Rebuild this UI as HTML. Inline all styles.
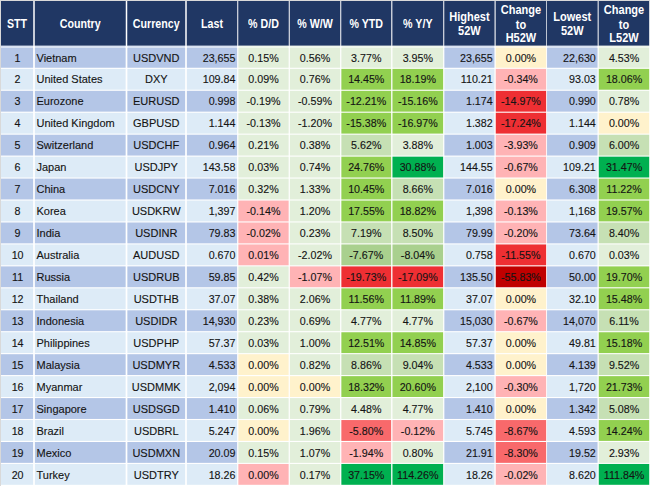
<!DOCTYPE html>
<html><head><meta charset="utf-8"><title>Currency table</title>
<style>
html,body{margin:0;padding:0;background:#fff;}
body{width:650px;height:486px;overflow:hidden;position:relative;font-family:"Liberation Sans",sans-serif;}
#bg{position:absolute;left:0;top:0;width:650px;height:486px;display:block;}
.c{position:absolute;box-sizing:border-box;font-size:10.7px;line-height:20.85px;color:#141414;white-space:nowrap;overflow:visible;transform:scaleY(1.09);transform-origin:50% 60%;-webkit-text-stroke:0.12px #141414;}
.c.c{text-align:center;}
.c.l{text-align:left;padding-left:1.5px;}
.c.r{text-align:right;padding-right:1.6px;}
.h{position:absolute;display:flex;align-items:center;justify-content:center;text-align:center;color:#fff;font-weight:bold;font-size:11.0px;line-height:12.6px;padding-top:1.9px;box-sizing:border-box;}
.h span{display:inline-block;transform:scaleY(1.13);transform-origin:50% 50%;}
</style></head><body>
<svg id="bg" width="650" height="486" viewBox="0 0 650 486">
<rect x="0" y="0" width="650" height="486" fill="#fff"/>
<rect x="0" y="0" width="650" height="1" fill="#d9d9d9"/>
<rect x="0" y="0" width="1" height="486" fill="#d9d9d9"/>
<rect x="1.00" y="1.0" width="32.25" height="44.70" fill="#203764"/>
<rect x="34.75" y="1.0" width="91.00" height="44.70" fill="#203764"/>
<rect x="127.25" y="1.0" width="58.00" height="44.70" fill="#203764"/>
<rect x="186.75" y="1.0" width="50.50" height="44.70" fill="#203764"/>
<rect x="238.25" y="1.0" width="50.50" height="44.70" fill="#203764"/>
<rect x="289.75" y="1.0" width="50.50" height="44.70" fill="#203764"/>
<rect x="341.25" y="1.0" width="50.00" height="44.70" fill="#203764"/>
<rect x="392.35" y="1.0" width="50.90" height="44.70" fill="#203764"/>
<rect x="444.25" y="1.0" width="50.30" height="44.70" fill="#203764"/>
<rect x="495.65" y="1.0" width="50.60" height="44.70" fill="#203764"/>
<rect x="546.95" y="1.0" width="50.70" height="44.70" fill="#203764"/>
<rect x="598.65" y="1.0" width="50.55" height="44.70" fill="#203764"/>
<rect x="1.00" y="48.00" width="32.15" height="19.75" fill="#B4C6E7"/>
<rect x="1" y="45.70" width="32.00" height="2.30" fill="#B4C6E7" fill-opacity="0.5"/>
<rect x="34.85" y="48.00" width="90.80" height="19.75" fill="#B4C6E7"/>
<rect x="35" y="45.70" width="90.50" height="2.30" fill="#B4C6E7" fill-opacity="0.5"/>
<rect x="127.35" y="48.00" width="57.80" height="19.75" fill="#B4C6E7"/>
<rect x="127.5" y="45.70" width="57.50" height="2.30" fill="#B4C6E7" fill-opacity="0.5"/>
<rect x="186.85" y="48.00" width="50.30" height="19.75" fill="#B4C6E7"/>
<rect x="187" y="45.70" width="50.00" height="2.30" fill="#B4C6E7" fill-opacity="0.5"/>
<rect x="238.35" y="48.00" width="50.30" height="19.75" fill="#E2EFDA"/>
<rect x="238.5" y="45.70" width="50.00" height="2.30" fill="#E2EFDA" fill-opacity="0.5"/>
<rect x="289.85" y="48.00" width="50.30" height="19.75" fill="#E2EFDA"/>
<rect x="290" y="45.70" width="50.00" height="2.30" fill="#E2EFDA" fill-opacity="0.5"/>
<rect x="341.35" y="48.00" width="49.80" height="19.75" fill="#E2EFDA"/>
<rect x="341.5" y="45.70" width="49.50" height="2.30" fill="#E2EFDA" fill-opacity="0.5"/>
<rect x="392.45" y="48.00" width="50.70" height="19.75" fill="#E2EFDA"/>
<rect x="392.6" y="45.70" width="50.40" height="2.30" fill="#E2EFDA" fill-opacity="0.5"/>
<rect x="444.35" y="48.00" width="50.10" height="19.75" fill="#B4C6E7"/>
<rect x="444.5" y="45.70" width="49.80" height="2.30" fill="#B4C6E7" fill-opacity="0.5"/>
<rect x="495.75" y="48.00" width="50.40" height="19.75" fill="#FFF2CC"/>
<rect x="495.9" y="45.70" width="50.10" height="2.30" fill="#FFF2CC" fill-opacity="0.5"/>
<rect x="547.05" y="48.00" width="50.50" height="19.75" fill="#B4C6E7"/>
<rect x="547.2" y="45.70" width="50.20" height="2.30" fill="#B4C6E7" fill-opacity="0.5"/>
<rect x="598.75" y="48.00" width="50.45" height="19.75" fill="#E2EFDA"/>
<rect x="598.9" y="45.70" width="50.30" height="2.30" fill="#E2EFDA" fill-opacity="0.5"/>
<rect x="1.00" y="68.85" width="32.15" height="20.85" fill="#DDEBF7"/>
<rect x="34.85" y="68.85" width="90.80" height="20.85" fill="#DDEBF7"/>
<rect x="127.35" y="68.85" width="57.80" height="20.85" fill="#DDEBF7"/>
<rect x="186.85" y="68.85" width="50.30" height="20.85" fill="#DDEBF7"/>
<rect x="238.35" y="68.85" width="50.30" height="20.85" fill="#E2EFDA"/>
<rect x="289.85" y="68.85" width="50.30" height="20.85" fill="#E2EFDA"/>
<rect x="341.35" y="68.85" width="49.80" height="20.85" fill="#92D050"/>
<rect x="392.45" y="68.85" width="50.70" height="20.85" fill="#92D050"/>
<rect x="444.35" y="68.85" width="50.10" height="20.85" fill="#DDEBF7"/>
<rect x="495.75" y="68.85" width="50.40" height="20.85" fill="#FFB3B5"/>
<rect x="547.05" y="68.85" width="50.50" height="20.85" fill="#DDEBF7"/>
<rect x="598.75" y="68.85" width="50.45" height="20.85" fill="#92D050"/>
<rect x="1.00" y="90.80" width="32.15" height="20.85" fill="#B4C6E7"/>
<rect x="34.85" y="90.80" width="90.80" height="20.85" fill="#B4C6E7"/>
<rect x="127.35" y="90.80" width="57.80" height="20.85" fill="#B4C6E7"/>
<rect x="186.85" y="90.80" width="50.30" height="20.85" fill="#B4C6E7"/>
<rect x="238.35" y="90.80" width="50.30" height="20.85" fill="#E2EFDA"/>
<rect x="289.85" y="90.80" width="50.30" height="20.85" fill="#E2EFDA"/>
<rect x="341.35" y="90.80" width="49.80" height="20.85" fill="#92D050"/>
<rect x="392.45" y="90.80" width="50.70" height="20.85" fill="#92D050"/>
<rect x="444.35" y="90.80" width="50.10" height="20.85" fill="#B4C6E7"/>
<rect x="495.75" y="90.80" width="50.40" height="20.85" fill="#EE2F33"/>
<rect x="547.05" y="90.80" width="50.50" height="20.85" fill="#B4C6E7"/>
<rect x="598.75" y="90.80" width="50.45" height="20.85" fill="#E2EFDA"/>
<rect x="1.00" y="112.75" width="32.15" height="20.85" fill="#DDEBF7"/>
<rect x="34.85" y="112.75" width="90.80" height="20.85" fill="#DDEBF7"/>
<rect x="127.35" y="112.75" width="57.80" height="20.85" fill="#DDEBF7"/>
<rect x="186.85" y="112.75" width="50.30" height="20.85" fill="#DDEBF7"/>
<rect x="238.35" y="112.75" width="50.30" height="20.85" fill="#E2EFDA"/>
<rect x="289.85" y="112.75" width="50.30" height="20.85" fill="#E2EFDA"/>
<rect x="341.35" y="112.75" width="49.80" height="20.85" fill="#92D050"/>
<rect x="392.45" y="112.75" width="50.70" height="20.85" fill="#92D050"/>
<rect x="444.35" y="112.75" width="50.10" height="20.85" fill="#DDEBF7"/>
<rect x="495.75" y="112.75" width="50.40" height="20.85" fill="#EE2F33"/>
<rect x="547.05" y="112.75" width="50.50" height="20.85" fill="#DDEBF7"/>
<rect x="598.75" y="112.75" width="50.45" height="20.85" fill="#FFF2CC"/>
<rect x="1.00" y="134.70" width="32.15" height="20.85" fill="#B4C6E7"/>
<rect x="34.85" y="134.70" width="90.80" height="20.85" fill="#B4C6E7"/>
<rect x="127.35" y="134.70" width="57.80" height="20.85" fill="#B4C6E7"/>
<rect x="186.85" y="134.70" width="50.30" height="20.85" fill="#B4C6E7"/>
<rect x="238.35" y="134.70" width="50.30" height="20.85" fill="#E2EFDA"/>
<rect x="289.85" y="134.70" width="50.30" height="20.85" fill="#E2EFDA"/>
<rect x="341.35" y="134.70" width="49.80" height="20.85" fill="#C6E0B4"/>
<rect x="392.45" y="134.70" width="50.70" height="20.85" fill="#E2EFDA"/>
<rect x="444.35" y="134.70" width="50.10" height="20.85" fill="#B4C6E7"/>
<rect x="495.75" y="134.70" width="50.40" height="20.85" fill="#FFB3B5"/>
<rect x="547.05" y="134.70" width="50.50" height="20.85" fill="#B4C6E7"/>
<rect x="598.75" y="134.70" width="50.45" height="20.85" fill="#C6E0B4"/>
<rect x="1.00" y="156.65" width="32.15" height="20.85" fill="#DDEBF7"/>
<rect x="34.85" y="156.65" width="90.80" height="20.85" fill="#DDEBF7"/>
<rect x="127.35" y="156.65" width="57.80" height="20.85" fill="#DDEBF7"/>
<rect x="186.85" y="156.65" width="50.30" height="20.85" fill="#DDEBF7"/>
<rect x="238.35" y="156.65" width="50.30" height="20.85" fill="#E2EFDA"/>
<rect x="289.85" y="156.65" width="50.30" height="20.85" fill="#E2EFDA"/>
<rect x="341.35" y="156.65" width="49.80" height="20.85" fill="#92D050"/>
<rect x="392.45" y="156.65" width="50.70" height="20.85" fill="#00B050"/>
<rect x="444.35" y="156.65" width="50.10" height="20.85" fill="#DDEBF7"/>
<rect x="495.75" y="156.65" width="50.40" height="20.85" fill="#FFB3B5"/>
<rect x="547.05" y="156.65" width="50.50" height="20.85" fill="#DDEBF7"/>
<rect x="598.75" y="156.65" width="50.45" height="20.85" fill="#00B050"/>
<rect x="1.00" y="178.60" width="32.15" height="20.85" fill="#B4C6E7"/>
<rect x="34.85" y="178.60" width="90.80" height="20.85" fill="#B4C6E7"/>
<rect x="127.35" y="178.60" width="57.80" height="20.85" fill="#B4C6E7"/>
<rect x="186.85" y="178.60" width="50.30" height="20.85" fill="#B4C6E7"/>
<rect x="238.35" y="178.60" width="50.30" height="20.85" fill="#E2EFDA"/>
<rect x="289.85" y="178.60" width="50.30" height="20.85" fill="#E2EFDA"/>
<rect x="341.35" y="178.60" width="49.80" height="20.85" fill="#92D050"/>
<rect x="392.45" y="178.60" width="50.70" height="20.85" fill="#C6E0B4"/>
<rect x="444.35" y="178.60" width="50.10" height="20.85" fill="#B4C6E7"/>
<rect x="495.75" y="178.60" width="50.40" height="20.85" fill="#FFF2CC"/>
<rect x="547.05" y="178.60" width="50.50" height="20.85" fill="#B4C6E7"/>
<rect x="598.75" y="178.60" width="50.45" height="20.85" fill="#92D050"/>
<rect x="1.00" y="200.55" width="32.15" height="20.85" fill="#DDEBF7"/>
<rect x="34.85" y="200.55" width="90.80" height="20.85" fill="#DDEBF7"/>
<rect x="127.35" y="200.55" width="57.80" height="20.85" fill="#DDEBF7"/>
<rect x="186.85" y="200.55" width="50.30" height="20.85" fill="#DDEBF7"/>
<rect x="238.35" y="200.55" width="50.30" height="20.85" fill="#FFB3B5"/>
<rect x="289.85" y="200.55" width="50.30" height="20.85" fill="#E2EFDA"/>
<rect x="341.35" y="200.55" width="49.80" height="20.85" fill="#92D050"/>
<rect x="392.45" y="200.55" width="50.70" height="20.85" fill="#92D050"/>
<rect x="444.35" y="200.55" width="50.10" height="20.85" fill="#DDEBF7"/>
<rect x="495.75" y="200.55" width="50.40" height="20.85" fill="#FFB3B5"/>
<rect x="547.05" y="200.55" width="50.50" height="20.85" fill="#DDEBF7"/>
<rect x="598.75" y="200.55" width="50.45" height="20.85" fill="#92D050"/>
<rect x="1.00" y="222.50" width="32.15" height="20.85" fill="#B4C6E7"/>
<rect x="34.85" y="222.50" width="90.80" height="20.85" fill="#B4C6E7"/>
<rect x="127.35" y="222.50" width="57.80" height="20.85" fill="#B4C6E7"/>
<rect x="186.85" y="222.50" width="50.30" height="20.85" fill="#B4C6E7"/>
<rect x="238.35" y="222.50" width="50.30" height="20.85" fill="#FFB3B5"/>
<rect x="289.85" y="222.50" width="50.30" height="20.85" fill="#E2EFDA"/>
<rect x="341.35" y="222.50" width="49.80" height="20.85" fill="#C6E0B4"/>
<rect x="392.45" y="222.50" width="50.70" height="20.85" fill="#C6E0B4"/>
<rect x="444.35" y="222.50" width="50.10" height="20.85" fill="#B4C6E7"/>
<rect x="495.75" y="222.50" width="50.40" height="20.85" fill="#FFB3B5"/>
<rect x="547.05" y="222.50" width="50.50" height="20.85" fill="#B4C6E7"/>
<rect x="598.75" y="222.50" width="50.45" height="20.85" fill="#C6E0B4"/>
<rect x="1.00" y="244.45" width="32.15" height="20.85" fill="#DDEBF7"/>
<rect x="34.85" y="244.45" width="90.80" height="20.85" fill="#DDEBF7"/>
<rect x="127.35" y="244.45" width="57.80" height="20.85" fill="#DDEBF7"/>
<rect x="186.85" y="244.45" width="50.30" height="20.85" fill="#DDEBF7"/>
<rect x="238.35" y="244.45" width="50.30" height="20.85" fill="#FFB3B5"/>
<rect x="289.85" y="244.45" width="50.30" height="20.85" fill="#E2EFDA"/>
<rect x="341.35" y="244.45" width="49.80" height="20.85" fill="#A9D08E"/>
<rect x="392.45" y="244.45" width="50.70" height="20.85" fill="#A9D08E"/>
<rect x="444.35" y="244.45" width="50.10" height="20.85" fill="#DDEBF7"/>
<rect x="495.75" y="244.45" width="50.40" height="20.85" fill="#EE2F33"/>
<rect x="547.05" y="244.45" width="50.50" height="20.85" fill="#DDEBF7"/>
<rect x="598.75" y="244.45" width="50.45" height="20.85" fill="#E2EFDA"/>
<rect x="1.00" y="266.40" width="32.15" height="20.85" fill="#B4C6E7"/>
<rect x="34.85" y="266.40" width="90.80" height="20.85" fill="#B4C6E7"/>
<rect x="127.35" y="266.40" width="57.80" height="20.85" fill="#B4C6E7"/>
<rect x="186.85" y="266.40" width="50.30" height="20.85" fill="#B4C6E7"/>
<rect x="238.35" y="266.40" width="50.30" height="20.85" fill="#E2EFDA"/>
<rect x="289.85" y="266.40" width="50.30" height="20.85" fill="#FFB3B5"/>
<rect x="341.35" y="266.40" width="49.80" height="20.85" fill="#EE2F33"/>
<rect x="392.45" y="266.40" width="50.70" height="20.85" fill="#EE2F33"/>
<rect x="444.35" y="266.40" width="50.10" height="20.85" fill="#B4C6E7"/>
<rect x="495.75" y="266.40" width="50.40" height="20.85" fill="#C00000"/>
<rect x="547.05" y="266.40" width="50.50" height="20.85" fill="#B4C6E7"/>
<rect x="598.75" y="266.40" width="50.45" height="20.85" fill="#92D050"/>
<rect x="1.00" y="288.35" width="32.15" height="20.85" fill="#DDEBF7"/>
<rect x="34.85" y="288.35" width="90.80" height="20.85" fill="#DDEBF7"/>
<rect x="127.35" y="288.35" width="57.80" height="20.85" fill="#DDEBF7"/>
<rect x="186.85" y="288.35" width="50.30" height="20.85" fill="#DDEBF7"/>
<rect x="238.35" y="288.35" width="50.30" height="20.85" fill="#E2EFDA"/>
<rect x="289.85" y="288.35" width="50.30" height="20.85" fill="#E2EFDA"/>
<rect x="341.35" y="288.35" width="49.80" height="20.85" fill="#92D050"/>
<rect x="392.45" y="288.35" width="50.70" height="20.85" fill="#92D050"/>
<rect x="444.35" y="288.35" width="50.10" height="20.85" fill="#DDEBF7"/>
<rect x="495.75" y="288.35" width="50.40" height="20.85" fill="#FFF2CC"/>
<rect x="547.05" y="288.35" width="50.50" height="20.85" fill="#DDEBF7"/>
<rect x="598.75" y="288.35" width="50.45" height="20.85" fill="#92D050"/>
<rect x="1.00" y="310.30" width="32.15" height="20.85" fill="#B4C6E7"/>
<rect x="34.85" y="310.30" width="90.80" height="20.85" fill="#B4C6E7"/>
<rect x="127.35" y="310.30" width="57.80" height="20.85" fill="#B4C6E7"/>
<rect x="186.85" y="310.30" width="50.30" height="20.85" fill="#B4C6E7"/>
<rect x="238.35" y="310.30" width="50.30" height="20.85" fill="#E2EFDA"/>
<rect x="289.85" y="310.30" width="50.30" height="20.85" fill="#E2EFDA"/>
<rect x="341.35" y="310.30" width="49.80" height="20.85" fill="#E2EFDA"/>
<rect x="392.45" y="310.30" width="50.70" height="20.85" fill="#E2EFDA"/>
<rect x="444.35" y="310.30" width="50.10" height="20.85" fill="#B4C6E7"/>
<rect x="495.75" y="310.30" width="50.40" height="20.85" fill="#FFB3B5"/>
<rect x="547.05" y="310.30" width="50.50" height="20.85" fill="#B4C6E7"/>
<rect x="598.75" y="310.30" width="50.45" height="20.85" fill="#C6E0B4"/>
<rect x="1.00" y="332.25" width="32.15" height="20.85" fill="#DDEBF7"/>
<rect x="34.85" y="332.25" width="90.80" height="20.85" fill="#DDEBF7"/>
<rect x="127.35" y="332.25" width="57.80" height="20.85" fill="#DDEBF7"/>
<rect x="186.85" y="332.25" width="50.30" height="20.85" fill="#DDEBF7"/>
<rect x="238.35" y="332.25" width="50.30" height="20.85" fill="#E2EFDA"/>
<rect x="289.85" y="332.25" width="50.30" height="20.85" fill="#E2EFDA"/>
<rect x="341.35" y="332.25" width="49.80" height="20.85" fill="#92D050"/>
<rect x="392.45" y="332.25" width="50.70" height="20.85" fill="#92D050"/>
<rect x="444.35" y="332.25" width="50.10" height="20.85" fill="#DDEBF7"/>
<rect x="495.75" y="332.25" width="50.40" height="20.85" fill="#FFF2CC"/>
<rect x="547.05" y="332.25" width="50.50" height="20.85" fill="#DDEBF7"/>
<rect x="598.75" y="332.25" width="50.45" height="20.85" fill="#92D050"/>
<rect x="1.00" y="354.20" width="32.15" height="20.85" fill="#B4C6E7"/>
<rect x="34.85" y="354.20" width="90.80" height="20.85" fill="#B4C6E7"/>
<rect x="127.35" y="354.20" width="57.80" height="20.85" fill="#B4C6E7"/>
<rect x="186.85" y="354.20" width="50.30" height="20.85" fill="#B4C6E7"/>
<rect x="238.35" y="354.20" width="50.30" height="20.85" fill="#FFF2CC"/>
<rect x="289.85" y="354.20" width="50.30" height="20.85" fill="#E2EFDA"/>
<rect x="341.35" y="354.20" width="49.80" height="20.85" fill="#C6E0B4"/>
<rect x="392.45" y="354.20" width="50.70" height="20.85" fill="#C6E0B4"/>
<rect x="444.35" y="354.20" width="50.10" height="20.85" fill="#B4C6E7"/>
<rect x="495.75" y="354.20" width="50.40" height="20.85" fill="#FFF2CC"/>
<rect x="547.05" y="354.20" width="50.50" height="20.85" fill="#B4C6E7"/>
<rect x="598.75" y="354.20" width="50.45" height="20.85" fill="#C6E0B4"/>
<rect x="1.00" y="376.15" width="32.15" height="20.85" fill="#DDEBF7"/>
<rect x="34.85" y="376.15" width="90.80" height="20.85" fill="#DDEBF7"/>
<rect x="127.35" y="376.15" width="57.80" height="20.85" fill="#DDEBF7"/>
<rect x="186.85" y="376.15" width="50.30" height="20.85" fill="#DDEBF7"/>
<rect x="238.35" y="376.15" width="50.30" height="20.85" fill="#FFF2CC"/>
<rect x="289.85" y="376.15" width="50.30" height="20.85" fill="#FFF2CC"/>
<rect x="341.35" y="376.15" width="49.80" height="20.85" fill="#92D050"/>
<rect x="392.45" y="376.15" width="50.70" height="20.85" fill="#92D050"/>
<rect x="444.35" y="376.15" width="50.10" height="20.85" fill="#DDEBF7"/>
<rect x="495.75" y="376.15" width="50.40" height="20.85" fill="#FFB3B5"/>
<rect x="547.05" y="376.15" width="50.50" height="20.85" fill="#DDEBF7"/>
<rect x="598.75" y="376.15" width="50.45" height="20.85" fill="#92D050"/>
<rect x="1.00" y="398.10" width="32.15" height="20.85" fill="#B4C6E7"/>
<rect x="34.85" y="398.10" width="90.80" height="20.85" fill="#B4C6E7"/>
<rect x="127.35" y="398.10" width="57.80" height="20.85" fill="#B4C6E7"/>
<rect x="186.85" y="398.10" width="50.30" height="20.85" fill="#B4C6E7"/>
<rect x="238.35" y="398.10" width="50.30" height="20.85" fill="#E2EFDA"/>
<rect x="289.85" y="398.10" width="50.30" height="20.85" fill="#E2EFDA"/>
<rect x="341.35" y="398.10" width="49.80" height="20.85" fill="#E2EFDA"/>
<rect x="392.45" y="398.10" width="50.70" height="20.85" fill="#E2EFDA"/>
<rect x="444.35" y="398.10" width="50.10" height="20.85" fill="#B4C6E7"/>
<rect x="495.75" y="398.10" width="50.40" height="20.85" fill="#FFF2CC"/>
<rect x="547.05" y="398.10" width="50.50" height="20.85" fill="#B4C6E7"/>
<rect x="598.75" y="398.10" width="50.45" height="20.85" fill="#C6E0B4"/>
<rect x="1.00" y="420.05" width="32.15" height="20.85" fill="#DDEBF7"/>
<rect x="34.85" y="420.05" width="90.80" height="20.85" fill="#DDEBF7"/>
<rect x="127.35" y="420.05" width="57.80" height="20.85" fill="#DDEBF7"/>
<rect x="186.85" y="420.05" width="50.30" height="20.85" fill="#DDEBF7"/>
<rect x="238.35" y="420.05" width="50.30" height="20.85" fill="#FFF2CC"/>
<rect x="289.85" y="420.05" width="50.30" height="20.85" fill="#E2EFDA"/>
<rect x="341.35" y="420.05" width="49.80" height="20.85" fill="#F8696B"/>
<rect x="392.45" y="420.05" width="50.70" height="20.85" fill="#FFB3B5"/>
<rect x="444.35" y="420.05" width="50.10" height="20.85" fill="#DDEBF7"/>
<rect x="495.75" y="420.05" width="50.40" height="20.85" fill="#F8696B"/>
<rect x="547.05" y="420.05" width="50.50" height="20.85" fill="#DDEBF7"/>
<rect x="598.75" y="420.05" width="50.45" height="20.85" fill="#92D050"/>
<rect x="1.00" y="442.00" width="32.15" height="20.85" fill="#B4C6E7"/>
<rect x="34.85" y="442.00" width="90.80" height="20.85" fill="#B4C6E7"/>
<rect x="127.35" y="442.00" width="57.80" height="20.85" fill="#B4C6E7"/>
<rect x="186.85" y="442.00" width="50.30" height="20.85" fill="#B4C6E7"/>
<rect x="238.35" y="442.00" width="50.30" height="20.85" fill="#E2EFDA"/>
<rect x="289.85" y="442.00" width="50.30" height="20.85" fill="#E2EFDA"/>
<rect x="341.35" y="442.00" width="49.80" height="20.85" fill="#FFB3B5"/>
<rect x="392.45" y="442.00" width="50.70" height="20.85" fill="#E2EFDA"/>
<rect x="444.35" y="442.00" width="50.10" height="20.85" fill="#B4C6E7"/>
<rect x="495.75" y="442.00" width="50.40" height="20.85" fill="#F8696B"/>
<rect x="547.05" y="442.00" width="50.50" height="20.85" fill="#B4C6E7"/>
<rect x="598.75" y="442.00" width="50.45" height="20.85" fill="#E2EFDA"/>
<rect x="1.00" y="463.95" width="32.15" height="20.85" fill="#DDEBF7"/>
<rect x="34.85" y="463.95" width="90.80" height="20.85" fill="#DDEBF7"/>
<rect x="127.35" y="463.95" width="57.80" height="20.85" fill="#DDEBF7"/>
<rect x="186.85" y="463.95" width="50.30" height="20.85" fill="#DDEBF7"/>
<rect x="238.35" y="463.95" width="50.30" height="20.85" fill="#FFB3B5"/>
<rect x="289.85" y="463.95" width="50.30" height="20.85" fill="#E2EFDA"/>
<rect x="341.35" y="463.95" width="49.80" height="20.85" fill="#00B050"/>
<rect x="392.45" y="463.95" width="50.70" height="20.85" fill="#00B050"/>
<rect x="444.35" y="463.95" width="50.10" height="20.85" fill="#DDEBF7"/>
<rect x="495.75" y="463.95" width="50.40" height="20.85" fill="#FFB3B5"/>
<rect x="547.05" y="463.95" width="50.50" height="20.85" fill="#DDEBF7"/>
<rect x="598.75" y="463.95" width="50.45" height="20.85" fill="#00B050"/>
</svg>
<div class="h" style="padding-top:1.9px;font-size:10.67px;left:1px;width:32.00px;top:1.0px;height:44.70px"><span>STT</span></div>
<div class="h" style="padding-top:1.9px;font-size:10.67px;left:35px;width:90.50px;top:1.0px;height:44.70px"><span>Country</span></div>
<div class="h" style="padding-top:1.9px;font-size:10.67px;left:127.5px;width:57.50px;top:1.0px;height:44.70px"><span>Currency</span></div>
<div class="h" style="padding-top:1.9px;font-size:10.67px;left:187px;width:50.00px;top:1.0px;height:44.70px"><span>Last</span></div>
<div class="h" style="padding-top:1.9px;font-size:10.67px;left:238.5px;width:50.00px;top:1.0px;height:44.70px"><span>% D/D</span></div>
<div class="h" style="padding-top:1.9px;font-size:10.67px;left:290px;width:50.00px;top:1.0px;height:44.70px"><span>% W/W</span></div>
<div class="h" style="padding-top:1.9px;font-size:10.67px;left:341.5px;width:49.50px;top:1.0px;height:44.70px"><span>% YTD</span></div>
<div class="h" style="padding-top:1.9px;font-size:10.67px;left:392.6px;width:50.40px;top:1.0px;height:44.70px"><span>% Y/Y</span></div>
<div class="h" style="padding-top:0.0px;font-size:11.0px;left:444.5px;width:49.80px;top:1.0px;height:44.70px"><span>Highest<br>52W</span></div>
<div class="h" style="padding-top:1.9px;font-size:11.0px;left:495.9px;width:50.10px;top:1.0px;height:44.70px"><span>Change<br>to<br>H52W</span></div>
<div class="h" style="padding-top:0.0px;font-size:11.0px;left:547.2px;width:50.20px;top:1.0px;height:44.70px"><span>Lowest<br>52W</span></div>
<div class="h" style="padding-top:1.9px;font-size:11.0px;left:598.9px;width:50.30px;top:1.0px;height:44.70px"><span>Change<br>to<br>L52W</span></div>
<div class="c c" style="font-size:10.7px;left:1.6px;width:32.00px;top:47.50px;height:20.85px">1</div>
<div class="c l" style="font-size:11.0px;transform:scaleY(1.05);left:35px;width:90.50px;top:47.50px;height:20.85px">Vietnam</div>
<div class="c c" style="font-size:11.0px;transform:scaleY(1.05);left:127.5px;width:57.50px;top:47.50px;height:20.85px">USDVND</div>
<div class="c r" style="font-size:10.7px;left:187px;width:50.00px;top:47.50px;height:20.85px">23,655</div>
<div class="c c" style="font-size:10.7px;left:238.5px;width:50.00px;top:47.50px;height:20.85px">0.15%</div>
<div class="c c" style="font-size:10.7px;left:290px;width:50.00px;top:47.50px;height:20.85px">0.56%</div>
<div class="c c" style="font-size:10.7px;left:341.5px;width:49.50px;top:47.50px;height:20.85px">3.77%</div>
<div class="c c" style="font-size:10.7px;left:392.6px;width:50.40px;top:47.50px;height:20.85px">3.95%</div>
<div class="c r" style="font-size:10.7px;left:444.5px;width:49.80px;top:47.50px;height:20.85px">23,655</div>
<div class="c c" style="font-size:10.7px;left:495.9px;width:50.10px;top:47.50px;height:20.85px">0.00%</div>
<div class="c r" style="font-size:10.7px;left:547.2px;width:50.20px;top:47.50px;height:20.85px">22,630</div>
<div class="c c" style="font-size:10.7px;left:598.9px;width:50.30px;top:47.50px;height:20.85px">4.53%</div>
<div class="c c" style="font-size:10.7px;left:1.6px;width:32.00px;top:69.45px;height:20.85px">2</div>
<div class="c l" style="font-size:11.0px;transform:scaleY(1.05);left:35px;width:90.50px;top:69.45px;height:20.85px">United States</div>
<div class="c c" style="font-size:11.0px;transform:scaleY(1.05);left:127.5px;width:57.50px;top:69.45px;height:20.85px">DXY</div>
<div class="c r" style="font-size:10.7px;left:187px;width:50.00px;top:69.45px;height:20.85px">109.84</div>
<div class="c c" style="font-size:10.7px;left:238.5px;width:50.00px;top:69.45px;height:20.85px">0.09%</div>
<div class="c c" style="font-size:10.7px;left:290px;width:50.00px;top:69.45px;height:20.85px">0.76%</div>
<div class="c c" style="font-size:10.7px;left:341.5px;width:49.50px;top:69.45px;height:20.85px">14.45%</div>
<div class="c c" style="font-size:10.7px;left:392.6px;width:50.40px;top:69.45px;height:20.85px">18.19%</div>
<div class="c r" style="font-size:10.7px;left:444.5px;width:49.80px;top:69.45px;height:20.85px">110.21</div>
<div class="c c" style="font-size:10.7px;left:495.9px;width:50.10px;top:69.45px;height:20.85px">-0.34%</div>
<div class="c r" style="font-size:10.7px;left:547.2px;width:50.20px;top:69.45px;height:20.85px">93.03</div>
<div class="c c" style="font-size:10.7px;left:598.9px;width:50.30px;top:69.45px;height:20.85px">18.06%</div>
<div class="c c" style="font-size:10.7px;left:1.6px;width:32.00px;top:91.40px;height:20.85px">3</div>
<div class="c l" style="font-size:11.0px;transform:scaleY(1.05);left:35px;width:90.50px;top:91.40px;height:20.85px">Eurozone</div>
<div class="c c" style="font-size:11.0px;transform:scaleY(1.05);left:127.5px;width:57.50px;top:91.40px;height:20.85px">EURUSD</div>
<div class="c r" style="font-size:10.7px;left:187px;width:50.00px;top:91.40px;height:20.85px">0.998</div>
<div class="c c" style="font-size:10.7px;left:238.5px;width:50.00px;top:91.40px;height:20.85px">-0.19%</div>
<div class="c c" style="font-size:10.7px;left:290px;width:50.00px;top:91.40px;height:20.85px">-0.59%</div>
<div class="c c" style="font-size:10.7px;left:341.5px;width:49.50px;top:91.40px;height:20.85px">-12.21%</div>
<div class="c c" style="font-size:10.7px;left:392.6px;width:50.40px;top:91.40px;height:20.85px">-15.16%</div>
<div class="c r" style="font-size:10.7px;left:444.5px;width:49.80px;top:91.40px;height:20.85px">1.174</div>
<div class="c c" style="font-size:10.7px;left:495.9px;width:50.10px;top:91.40px;height:20.85px">-14.97%</div>
<div class="c r" style="font-size:10.7px;left:547.2px;width:50.20px;top:91.40px;height:20.85px">0.990</div>
<div class="c c" style="font-size:10.7px;left:598.9px;width:50.30px;top:91.40px;height:20.85px">0.78%</div>
<div class="c c" style="font-size:10.7px;left:1.6px;width:32.00px;top:113.35px;height:20.85px">4</div>
<div class="c l" style="font-size:11.0px;transform:scaleY(1.05);left:35px;width:90.50px;top:113.35px;height:20.85px">United Kingdom</div>
<div class="c c" style="font-size:11.0px;transform:scaleY(1.05);left:127.5px;width:57.50px;top:113.35px;height:20.85px">GBPUSD</div>
<div class="c r" style="font-size:10.7px;left:187px;width:50.00px;top:113.35px;height:20.85px">1.144</div>
<div class="c c" style="font-size:10.7px;left:238.5px;width:50.00px;top:113.35px;height:20.85px">-0.13%</div>
<div class="c c" style="font-size:10.7px;left:290px;width:50.00px;top:113.35px;height:20.85px">-1.20%</div>
<div class="c c" style="font-size:10.7px;left:341.5px;width:49.50px;top:113.35px;height:20.85px">-15.38%</div>
<div class="c c" style="font-size:10.7px;left:392.6px;width:50.40px;top:113.35px;height:20.85px">-16.97%</div>
<div class="c r" style="font-size:10.7px;left:444.5px;width:49.80px;top:113.35px;height:20.85px">1.382</div>
<div class="c c" style="font-size:10.7px;left:495.9px;width:50.10px;top:113.35px;height:20.85px">-17.24%</div>
<div class="c r" style="font-size:10.7px;left:547.2px;width:50.20px;top:113.35px;height:20.85px">1.144</div>
<div class="c c" style="font-size:10.7px;left:598.9px;width:50.30px;top:113.35px;height:20.85px">0.00%</div>
<div class="c c" style="font-size:10.7px;left:1.6px;width:32.00px;top:135.30px;height:20.85px">5</div>
<div class="c l" style="font-size:11.0px;transform:scaleY(1.05);left:35px;width:90.50px;top:135.30px;height:20.85px">Switzerland</div>
<div class="c c" style="font-size:11.0px;transform:scaleY(1.05);left:127.5px;width:57.50px;top:135.30px;height:20.85px">USDCHF</div>
<div class="c r" style="font-size:10.7px;left:187px;width:50.00px;top:135.30px;height:20.85px">0.964</div>
<div class="c c" style="font-size:10.7px;left:238.5px;width:50.00px;top:135.30px;height:20.85px">0.21%</div>
<div class="c c" style="font-size:10.7px;left:290px;width:50.00px;top:135.30px;height:20.85px">0.38%</div>
<div class="c c" style="font-size:10.7px;left:341.5px;width:49.50px;top:135.30px;height:20.85px">5.62%</div>
<div class="c c" style="font-size:10.7px;left:392.6px;width:50.40px;top:135.30px;height:20.85px">3.88%</div>
<div class="c r" style="font-size:10.7px;left:444.5px;width:49.80px;top:135.30px;height:20.85px">1.003</div>
<div class="c c" style="font-size:10.7px;left:495.9px;width:50.10px;top:135.30px;height:20.85px">-3.93%</div>
<div class="c r" style="font-size:10.7px;left:547.2px;width:50.20px;top:135.30px;height:20.85px">0.909</div>
<div class="c c" style="font-size:10.7px;left:598.9px;width:50.30px;top:135.30px;height:20.85px">6.00%</div>
<div class="c c" style="font-size:10.7px;left:1.6px;width:32.00px;top:157.25px;height:20.85px">6</div>
<div class="c l" style="font-size:11.0px;transform:scaleY(1.05);left:35px;width:90.50px;top:157.25px;height:20.85px">Japan</div>
<div class="c c" style="font-size:11.0px;transform:scaleY(1.05);left:127.5px;width:57.50px;top:157.25px;height:20.85px">USDJPY</div>
<div class="c r" style="font-size:10.7px;left:187px;width:50.00px;top:157.25px;height:20.85px">143.58</div>
<div class="c c" style="font-size:10.7px;left:238.5px;width:50.00px;top:157.25px;height:20.85px">0.03%</div>
<div class="c c" style="font-size:10.7px;left:290px;width:50.00px;top:157.25px;height:20.85px">0.74%</div>
<div class="c c" style="font-size:10.7px;left:341.5px;width:49.50px;top:157.25px;height:20.85px">24.76%</div>
<div class="c c" style="font-size:10.7px;left:392.6px;width:50.40px;top:157.25px;height:20.85px">30.88%</div>
<div class="c r" style="font-size:10.7px;left:444.5px;width:49.80px;top:157.25px;height:20.85px">144.55</div>
<div class="c c" style="font-size:10.7px;left:495.9px;width:50.10px;top:157.25px;height:20.85px">-0.67%</div>
<div class="c r" style="font-size:10.7px;left:547.2px;width:50.20px;top:157.25px;height:20.85px">109.21</div>
<div class="c c" style="font-size:10.7px;left:598.9px;width:50.30px;top:157.25px;height:20.85px">31.47%</div>
<div class="c c" style="font-size:10.7px;left:1.6px;width:32.00px;top:179.20px;height:20.85px">7</div>
<div class="c l" style="font-size:11.0px;transform:scaleY(1.05);left:35px;width:90.50px;top:179.20px;height:20.85px">China</div>
<div class="c c" style="font-size:11.0px;transform:scaleY(1.05);left:127.5px;width:57.50px;top:179.20px;height:20.85px">USDCNY</div>
<div class="c r" style="font-size:10.7px;left:187px;width:50.00px;top:179.20px;height:20.85px">7.016</div>
<div class="c c" style="font-size:10.7px;left:238.5px;width:50.00px;top:179.20px;height:20.85px">0.32%</div>
<div class="c c" style="font-size:10.7px;left:290px;width:50.00px;top:179.20px;height:20.85px">1.33%</div>
<div class="c c" style="font-size:10.7px;left:341.5px;width:49.50px;top:179.20px;height:20.85px">10.45%</div>
<div class="c c" style="font-size:10.7px;left:392.6px;width:50.40px;top:179.20px;height:20.85px">8.66%</div>
<div class="c r" style="font-size:10.7px;left:444.5px;width:49.80px;top:179.20px;height:20.85px">7.016</div>
<div class="c c" style="font-size:10.7px;left:495.9px;width:50.10px;top:179.20px;height:20.85px">0.00%</div>
<div class="c r" style="font-size:10.7px;left:547.2px;width:50.20px;top:179.20px;height:20.85px">6.308</div>
<div class="c c" style="font-size:10.7px;left:598.9px;width:50.30px;top:179.20px;height:20.85px">11.22%</div>
<div class="c c" style="font-size:10.7px;left:1.6px;width:32.00px;top:201.15px;height:20.85px">8</div>
<div class="c l" style="font-size:11.0px;transform:scaleY(1.05);left:35px;width:90.50px;top:201.15px;height:20.85px">Korea</div>
<div class="c c" style="font-size:11.0px;transform:scaleY(1.05);left:127.5px;width:57.50px;top:201.15px;height:20.85px">USDKRW</div>
<div class="c r" style="font-size:10.7px;left:187px;width:50.00px;top:201.15px;height:20.85px">1,397</div>
<div class="c c" style="font-size:10.7px;left:238.5px;width:50.00px;top:201.15px;height:20.85px">-0.14%</div>
<div class="c c" style="font-size:10.7px;left:290px;width:50.00px;top:201.15px;height:20.85px">1.20%</div>
<div class="c c" style="font-size:10.7px;left:341.5px;width:49.50px;top:201.15px;height:20.85px">17.55%</div>
<div class="c c" style="font-size:10.7px;left:392.6px;width:50.40px;top:201.15px;height:20.85px">18.82%</div>
<div class="c r" style="font-size:10.7px;left:444.5px;width:49.80px;top:201.15px;height:20.85px">1,398</div>
<div class="c c" style="font-size:10.7px;left:495.9px;width:50.10px;top:201.15px;height:20.85px">-0.13%</div>
<div class="c r" style="font-size:10.7px;left:547.2px;width:50.20px;top:201.15px;height:20.85px">1,168</div>
<div class="c c" style="font-size:10.7px;left:598.9px;width:50.30px;top:201.15px;height:20.85px">19.57%</div>
<div class="c c" style="font-size:10.7px;left:1.6px;width:32.00px;top:223.10px;height:20.85px">9</div>
<div class="c l" style="font-size:11.0px;transform:scaleY(1.05);left:35px;width:90.50px;top:223.10px;height:20.85px">India</div>
<div class="c c" style="font-size:11.0px;transform:scaleY(1.05);left:127.5px;width:57.50px;top:223.10px;height:20.85px">USDINR</div>
<div class="c r" style="font-size:10.7px;left:187px;width:50.00px;top:223.10px;height:20.85px">79.83</div>
<div class="c c" style="font-size:10.7px;left:238.5px;width:50.00px;top:223.10px;height:20.85px">-0.02%</div>
<div class="c c" style="font-size:10.7px;left:290px;width:50.00px;top:223.10px;height:20.85px">0.23%</div>
<div class="c c" style="font-size:10.7px;left:341.5px;width:49.50px;top:223.10px;height:20.85px">7.19%</div>
<div class="c c" style="font-size:10.7px;left:392.6px;width:50.40px;top:223.10px;height:20.85px">8.50%</div>
<div class="c r" style="font-size:10.7px;left:444.5px;width:49.80px;top:223.10px;height:20.85px">79.99</div>
<div class="c c" style="font-size:10.7px;left:495.9px;width:50.10px;top:223.10px;height:20.85px">-0.20%</div>
<div class="c r" style="font-size:10.7px;left:547.2px;width:50.20px;top:223.10px;height:20.85px">73.64</div>
<div class="c c" style="font-size:10.7px;left:598.9px;width:50.30px;top:223.10px;height:20.85px">8.40%</div>
<div class="c c" style="font-size:10.7px;left:1.6px;width:32.00px;top:245.05px;height:20.85px">10</div>
<div class="c l" style="font-size:11.0px;transform:scaleY(1.05);left:35px;width:90.50px;top:245.05px;height:20.85px">Australia</div>
<div class="c c" style="font-size:11.0px;transform:scaleY(1.05);left:127.5px;width:57.50px;top:245.05px;height:20.85px">AUDUSD</div>
<div class="c r" style="font-size:10.7px;left:187px;width:50.00px;top:245.05px;height:20.85px">0.670</div>
<div class="c c" style="font-size:10.7px;left:238.5px;width:50.00px;top:245.05px;height:20.85px">0.01%</div>
<div class="c c" style="font-size:10.7px;left:290px;width:50.00px;top:245.05px;height:20.85px">-2.02%</div>
<div class="c c" style="font-size:10.7px;left:341.5px;width:49.50px;top:245.05px;height:20.85px">-7.67%</div>
<div class="c c" style="font-size:10.7px;left:392.6px;width:50.40px;top:245.05px;height:20.85px">-8.04%</div>
<div class="c r" style="font-size:10.7px;left:444.5px;width:49.80px;top:245.05px;height:20.85px">0.758</div>
<div class="c c" style="font-size:10.7px;left:495.9px;width:50.10px;top:245.05px;height:20.85px">-11.55%</div>
<div class="c r" style="font-size:10.7px;left:547.2px;width:50.20px;top:245.05px;height:20.85px">0.670</div>
<div class="c c" style="font-size:10.7px;left:598.9px;width:50.30px;top:245.05px;height:20.85px">0.03%</div>
<div class="c c" style="font-size:10.7px;left:1.6px;width:32.00px;top:267.00px;height:20.85px">11</div>
<div class="c l" style="font-size:11.0px;transform:scaleY(1.05);left:35px;width:90.50px;top:267.00px;height:20.85px">Russia</div>
<div class="c c" style="font-size:11.0px;transform:scaleY(1.05);left:127.5px;width:57.50px;top:267.00px;height:20.85px">USDRUB</div>
<div class="c r" style="font-size:10.7px;left:187px;width:50.00px;top:267.00px;height:20.85px">59.85</div>
<div class="c c" style="font-size:10.7px;left:238.5px;width:50.00px;top:267.00px;height:20.85px">0.42%</div>
<div class="c c" style="font-size:10.7px;left:290px;width:50.00px;top:267.00px;height:20.85px">-1.07%</div>
<div class="c c" style="font-size:10.7px;left:341.5px;width:49.50px;top:267.00px;height:20.85px">-19.73%</div>
<div class="c c" style="font-size:10.7px;left:392.6px;width:50.40px;top:267.00px;height:20.85px">-17.09%</div>
<div class="c r" style="font-size:10.7px;left:444.5px;width:49.80px;top:267.00px;height:20.85px">135.50</div>
<div class="c c" style="font-size:10.7px;left:495.9px;width:50.10px;top:267.00px;height:20.85px">-55.83%</div>
<div class="c r" style="font-size:10.7px;left:547.2px;width:50.20px;top:267.00px;height:20.85px">50.00</div>
<div class="c c" style="font-size:10.7px;left:598.9px;width:50.30px;top:267.00px;height:20.85px">19.70%</div>
<div class="c c" style="font-size:10.7px;left:1.6px;width:32.00px;top:288.95px;height:20.85px">12</div>
<div class="c l" style="font-size:11.0px;transform:scaleY(1.05);left:35px;width:90.50px;top:288.95px;height:20.85px">Thailand</div>
<div class="c c" style="font-size:11.0px;transform:scaleY(1.05);left:127.5px;width:57.50px;top:288.95px;height:20.85px">USDTHB</div>
<div class="c r" style="font-size:10.7px;left:187px;width:50.00px;top:288.95px;height:20.85px">37.07</div>
<div class="c c" style="font-size:10.7px;left:238.5px;width:50.00px;top:288.95px;height:20.85px">0.38%</div>
<div class="c c" style="font-size:10.7px;left:290px;width:50.00px;top:288.95px;height:20.85px">2.06%</div>
<div class="c c" style="font-size:10.7px;left:341.5px;width:49.50px;top:288.95px;height:20.85px">11.56%</div>
<div class="c c" style="font-size:10.7px;left:392.6px;width:50.40px;top:288.95px;height:20.85px">11.89%</div>
<div class="c r" style="font-size:10.7px;left:444.5px;width:49.80px;top:288.95px;height:20.85px">37.07</div>
<div class="c c" style="font-size:10.7px;left:495.9px;width:50.10px;top:288.95px;height:20.85px">0.00%</div>
<div class="c r" style="font-size:10.7px;left:547.2px;width:50.20px;top:288.95px;height:20.85px">32.10</div>
<div class="c c" style="font-size:10.7px;left:598.9px;width:50.30px;top:288.95px;height:20.85px">15.48%</div>
<div class="c c" style="font-size:10.7px;left:1.6px;width:32.00px;top:310.90px;height:20.85px">13</div>
<div class="c l" style="font-size:11.0px;transform:scaleY(1.05);left:35px;width:90.50px;top:310.90px;height:20.85px">Indonesia</div>
<div class="c c" style="font-size:11.0px;transform:scaleY(1.05);left:127.5px;width:57.50px;top:310.90px;height:20.85px">USDIDR</div>
<div class="c r" style="font-size:10.7px;left:187px;width:50.00px;top:310.90px;height:20.85px">14,930</div>
<div class="c c" style="font-size:10.7px;left:238.5px;width:50.00px;top:310.90px;height:20.85px">0.23%</div>
<div class="c c" style="font-size:10.7px;left:290px;width:50.00px;top:310.90px;height:20.85px">0.69%</div>
<div class="c c" style="font-size:10.7px;left:341.5px;width:49.50px;top:310.90px;height:20.85px">4.77%</div>
<div class="c c" style="font-size:10.7px;left:392.6px;width:50.40px;top:310.90px;height:20.85px">4.77%</div>
<div class="c r" style="font-size:10.7px;left:444.5px;width:49.80px;top:310.90px;height:20.85px">15,030</div>
<div class="c c" style="font-size:10.7px;left:495.9px;width:50.10px;top:310.90px;height:20.85px">-0.67%</div>
<div class="c r" style="font-size:10.7px;left:547.2px;width:50.20px;top:310.90px;height:20.85px">14,070</div>
<div class="c c" style="font-size:10.7px;left:598.9px;width:50.30px;top:310.90px;height:20.85px">6.11%</div>
<div class="c c" style="font-size:10.7px;left:1.6px;width:32.00px;top:332.85px;height:20.85px">14</div>
<div class="c l" style="font-size:11.0px;transform:scaleY(1.05);left:35px;width:90.50px;top:332.85px;height:20.85px">Philippines</div>
<div class="c c" style="font-size:11.0px;transform:scaleY(1.05);left:127.5px;width:57.50px;top:332.85px;height:20.85px">USDPHP</div>
<div class="c r" style="font-size:10.7px;left:187px;width:50.00px;top:332.85px;height:20.85px">57.37</div>
<div class="c c" style="font-size:10.7px;left:238.5px;width:50.00px;top:332.85px;height:20.85px">0.03%</div>
<div class="c c" style="font-size:10.7px;left:290px;width:50.00px;top:332.85px;height:20.85px">1.00%</div>
<div class="c c" style="font-size:10.7px;left:341.5px;width:49.50px;top:332.85px;height:20.85px">12.51%</div>
<div class="c c" style="font-size:10.7px;left:392.6px;width:50.40px;top:332.85px;height:20.85px">14.85%</div>
<div class="c r" style="font-size:10.7px;left:444.5px;width:49.80px;top:332.85px;height:20.85px">57.37</div>
<div class="c c" style="font-size:10.7px;left:495.9px;width:50.10px;top:332.85px;height:20.85px">0.00%</div>
<div class="c r" style="font-size:10.7px;left:547.2px;width:50.20px;top:332.85px;height:20.85px">49.81</div>
<div class="c c" style="font-size:10.7px;left:598.9px;width:50.30px;top:332.85px;height:20.85px">15.18%</div>
<div class="c c" style="font-size:10.7px;left:1.6px;width:32.00px;top:354.80px;height:20.85px">15</div>
<div class="c l" style="font-size:11.0px;transform:scaleY(1.05);left:35px;width:90.50px;top:354.80px;height:20.85px">Malaysia</div>
<div class="c c" style="font-size:11.0px;transform:scaleY(1.05);left:127.5px;width:57.50px;top:354.80px;height:20.85px">USDMYR</div>
<div class="c r" style="font-size:10.7px;left:187px;width:50.00px;top:354.80px;height:20.85px">4.533</div>
<div class="c c" style="font-size:10.7px;left:238.5px;width:50.00px;top:354.80px;height:20.85px">0.00%</div>
<div class="c c" style="font-size:10.7px;left:290px;width:50.00px;top:354.80px;height:20.85px">0.82%</div>
<div class="c c" style="font-size:10.7px;left:341.5px;width:49.50px;top:354.80px;height:20.85px">8.86%</div>
<div class="c c" style="font-size:10.7px;left:392.6px;width:50.40px;top:354.80px;height:20.85px">9.04%</div>
<div class="c r" style="font-size:10.7px;left:444.5px;width:49.80px;top:354.80px;height:20.85px">4.533</div>
<div class="c c" style="font-size:10.7px;left:495.9px;width:50.10px;top:354.80px;height:20.85px">0.00%</div>
<div class="c r" style="font-size:10.7px;left:547.2px;width:50.20px;top:354.80px;height:20.85px">4.139</div>
<div class="c c" style="font-size:10.7px;left:598.9px;width:50.30px;top:354.80px;height:20.85px">9.52%</div>
<div class="c c" style="font-size:10.7px;left:1.6px;width:32.00px;top:376.75px;height:20.85px">16</div>
<div class="c l" style="font-size:11.0px;transform:scaleY(1.05);left:35px;width:90.50px;top:376.75px;height:20.85px">Myanmar</div>
<div class="c c" style="font-size:11.0px;transform:scaleY(1.05);left:127.5px;width:57.50px;top:376.75px;height:20.85px">USDMMK</div>
<div class="c r" style="font-size:10.7px;left:187px;width:50.00px;top:376.75px;height:20.85px">2,094</div>
<div class="c c" style="font-size:10.7px;left:238.5px;width:50.00px;top:376.75px;height:20.85px">0.00%</div>
<div class="c c" style="font-size:10.7px;left:290px;width:50.00px;top:376.75px;height:20.85px">0.00%</div>
<div class="c c" style="font-size:10.7px;left:341.5px;width:49.50px;top:376.75px;height:20.85px">18.32%</div>
<div class="c c" style="font-size:10.7px;left:392.6px;width:50.40px;top:376.75px;height:20.85px">20.60%</div>
<div class="c r" style="font-size:10.7px;left:444.5px;width:49.80px;top:376.75px;height:20.85px">2,100</div>
<div class="c c" style="font-size:10.7px;left:495.9px;width:50.10px;top:376.75px;height:20.85px">-0.30%</div>
<div class="c r" style="font-size:10.7px;left:547.2px;width:50.20px;top:376.75px;height:20.85px">1,720</div>
<div class="c c" style="font-size:10.7px;left:598.9px;width:50.30px;top:376.75px;height:20.85px">21.73%</div>
<div class="c c" style="font-size:10.7px;left:1.6px;width:32.00px;top:398.70px;height:20.85px">17</div>
<div class="c l" style="font-size:11.0px;transform:scaleY(1.05);left:35px;width:90.50px;top:398.70px;height:20.85px">Singapore</div>
<div class="c c" style="font-size:11.0px;transform:scaleY(1.05);left:127.5px;width:57.50px;top:398.70px;height:20.85px">USDSGD</div>
<div class="c r" style="font-size:10.7px;left:187px;width:50.00px;top:398.70px;height:20.85px">1.410</div>
<div class="c c" style="font-size:10.7px;left:238.5px;width:50.00px;top:398.70px;height:20.85px">0.06%</div>
<div class="c c" style="font-size:10.7px;left:290px;width:50.00px;top:398.70px;height:20.85px">0.79%</div>
<div class="c c" style="font-size:10.7px;left:341.5px;width:49.50px;top:398.70px;height:20.85px">4.48%</div>
<div class="c c" style="font-size:10.7px;left:392.6px;width:50.40px;top:398.70px;height:20.85px">4.77%</div>
<div class="c r" style="font-size:10.7px;left:444.5px;width:49.80px;top:398.70px;height:20.85px">1.410</div>
<div class="c c" style="font-size:10.7px;left:495.9px;width:50.10px;top:398.70px;height:20.85px">0.00%</div>
<div class="c r" style="font-size:10.7px;left:547.2px;width:50.20px;top:398.70px;height:20.85px">1.342</div>
<div class="c c" style="font-size:10.7px;left:598.9px;width:50.30px;top:398.70px;height:20.85px">5.08%</div>
<div class="c c" style="font-size:10.7px;left:1.6px;width:32.00px;top:420.65px;height:20.85px">18</div>
<div class="c l" style="font-size:11.0px;transform:scaleY(1.05);left:35px;width:90.50px;top:420.65px;height:20.85px">Brazil</div>
<div class="c c" style="font-size:11.0px;transform:scaleY(1.05);left:127.5px;width:57.50px;top:420.65px;height:20.85px">USDBRL</div>
<div class="c r" style="font-size:10.7px;left:187px;width:50.00px;top:420.65px;height:20.85px">5.247</div>
<div class="c c" style="font-size:10.7px;left:238.5px;width:50.00px;top:420.65px;height:20.85px">0.00%</div>
<div class="c c" style="font-size:10.7px;left:290px;width:50.00px;top:420.65px;height:20.85px">1.96%</div>
<div class="c c" style="font-size:10.7px;left:341.5px;width:49.50px;top:420.65px;height:20.85px">-5.80%</div>
<div class="c c" style="font-size:10.7px;left:392.6px;width:50.40px;top:420.65px;height:20.85px">-0.12%</div>
<div class="c r" style="font-size:10.7px;left:444.5px;width:49.80px;top:420.65px;height:20.85px">5.745</div>
<div class="c c" style="font-size:10.7px;left:495.9px;width:50.10px;top:420.65px;height:20.85px">-8.67%</div>
<div class="c r" style="font-size:10.7px;left:547.2px;width:50.20px;top:420.65px;height:20.85px">4.593</div>
<div class="c c" style="font-size:10.7px;left:598.9px;width:50.30px;top:420.65px;height:20.85px">14.24%</div>
<div class="c c" style="font-size:10.7px;left:1.6px;width:32.00px;top:442.60px;height:20.85px">19</div>
<div class="c l" style="font-size:11.0px;transform:scaleY(1.05);left:35px;width:90.50px;top:442.60px;height:20.85px">Mexico</div>
<div class="c c" style="font-size:11.0px;transform:scaleY(1.05);left:127.5px;width:57.50px;top:442.60px;height:20.85px">USDMXN</div>
<div class="c r" style="font-size:10.7px;left:187px;width:50.00px;top:442.60px;height:20.85px">20.09</div>
<div class="c c" style="font-size:10.7px;left:238.5px;width:50.00px;top:442.60px;height:20.85px">0.15%</div>
<div class="c c" style="font-size:10.7px;left:290px;width:50.00px;top:442.60px;height:20.85px">1.07%</div>
<div class="c c" style="font-size:10.7px;left:341.5px;width:49.50px;top:442.60px;height:20.85px">-1.94%</div>
<div class="c c" style="font-size:10.7px;left:392.6px;width:50.40px;top:442.60px;height:20.85px">0.80%</div>
<div class="c r" style="font-size:10.7px;left:444.5px;width:49.80px;top:442.60px;height:20.85px">21.91</div>
<div class="c c" style="font-size:10.7px;left:495.9px;width:50.10px;top:442.60px;height:20.85px">-8.30%</div>
<div class="c r" style="font-size:10.7px;left:547.2px;width:50.20px;top:442.60px;height:20.85px">19.52</div>
<div class="c c" style="font-size:10.7px;left:598.9px;width:50.30px;top:442.60px;height:20.85px">2.93%</div>
<div class="c c" style="font-size:10.7px;left:1.6px;width:32.00px;top:464.55px;height:20.85px">20</div>
<div class="c l" style="font-size:11.0px;transform:scaleY(1.05);left:35px;width:90.50px;top:464.55px;height:20.85px">Turkey</div>
<div class="c c" style="font-size:11.0px;transform:scaleY(1.05);left:127.5px;width:57.50px;top:464.55px;height:20.85px">USDTRY</div>
<div class="c r" style="font-size:10.7px;left:187px;width:50.00px;top:464.55px;height:20.85px">18.26</div>
<div class="c c" style="font-size:10.7px;left:238.5px;width:50.00px;top:464.55px;height:20.85px">0.00%</div>
<div class="c c" style="font-size:10.7px;left:290px;width:50.00px;top:464.55px;height:20.85px">0.17%</div>
<div class="c c" style="font-size:10.7px;left:341.5px;width:49.50px;top:464.55px;height:20.85px">37.15%</div>
<div class="c c" style="font-size:10.7px;left:392.6px;width:50.40px;top:464.55px;height:20.85px">114.26%</div>
<div class="c r" style="font-size:10.7px;left:444.5px;width:49.80px;top:464.55px;height:20.85px">18.26</div>
<div class="c c" style="font-size:10.7px;left:495.9px;width:50.10px;top:464.55px;height:20.85px">-0.02%</div>
<div class="c r" style="font-size:10.7px;left:547.2px;width:50.20px;top:464.55px;height:20.85px">8.620</div>
<div class="c c" style="font-size:10.7px;left:598.9px;width:50.30px;top:464.55px;height:20.85px">111.84%</div>
</body></html>
